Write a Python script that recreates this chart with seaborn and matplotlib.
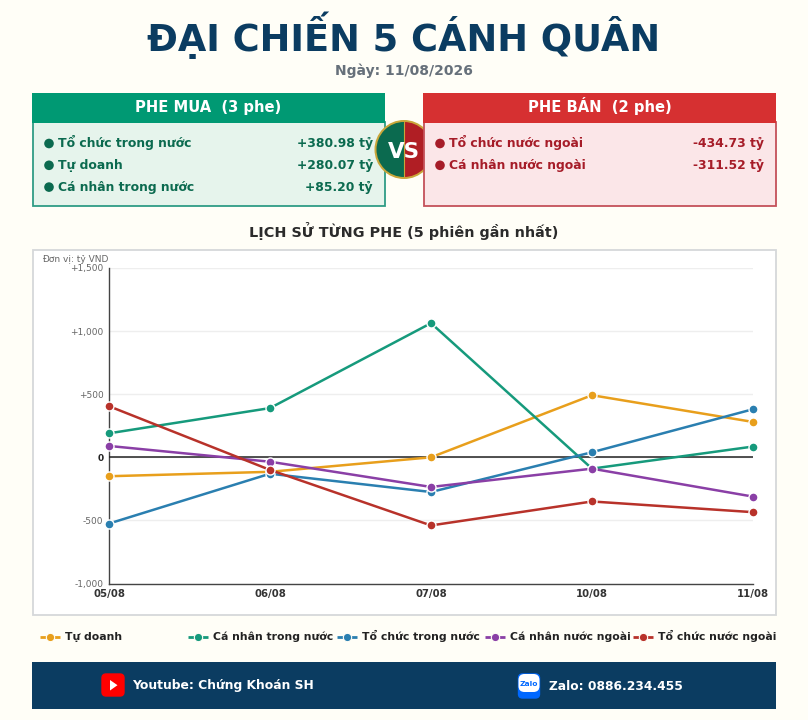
import matplotlib
matplotlib.use("Agg")
import matplotlib.pyplot as plt
from matplotlib.patches import Rectangle, FancyBboxPatch, Circle, Wedge, Polygon
from matplotlib.lines import Line2D
import pandas as pd
import seaborn as sns

sessions = ["05/08", "06/08", "07/08", "10/08", "11/08"]
tu_doanh = [-150, -115, 0, 492, 280.07]
ca_nhan_trong_nuoc = [190, 390, 1063, -90, 85.20]
to_chuc_trong_nuoc = [-525, -130, -275, 40, 380.98]
ca_nhan_nuoc_ngoai = [90, -35, -235, -90, -311.52]
to_chuc_nuoc_ngoai = [405, -100, -540, -350, -434.73]
series_names = ["Tự doanh", "Cá nhân trong nước", "Tổ chức trong nước", "Cá nhân nước ngoài", "Tổ chức nước ngoài"]
series_values = [tu_doanh, ca_nhan_trong_nuoc, to_chuc_trong_nuoc, ca_nhan_nuoc_ngoai, to_chuc_nuoc_ngoai]
series_colors = ["#E89F1C", "#169A7C", "#2A7FB0", "#8A3FA6", "#B8322A"]
y_ticks = [-1000, -500, 0, 500, 1000, 1500]
y_tick_labels = ["-1,000", "-500", "0", "+500", "+1,000", "+1,500"]
buy_rows = [("Tổ chức trong nước", "+380.98 tỷ"), ("Tự doanh", "+280.07 tỷ"), ("Cá nhân trong nước", "+85.20 tỷ")]
sell_rows = [("Tổ chức nước ngoài", "-434.73 tỷ"), ("Cá nhân nước ngoài", "-311.52 tỷ")]
legend_x = [40, 188, 337, 485, 633]

W, H = 808, 720
BG = "#FFFEF7"
NAVY = "#0B3C61"
sns.set_theme(style="white")
plt.rcParams["font.family"] = ["DejaVu Sans"]

fig = plt.figure(figsize=(W / 100, H / 100), dpi=100, facecolor=BG)
bg = fig.add_axes([0, 0, 1, 1], zorder=0)
bg.set_xlim(0, W); bg.set_ylim(H, 0); bg.axis("off")

def T(x, y, s, size, color, ha="left", weight="bold", ax=bg, **kw):
    return ax.text(x, y, s, fontsize=size, color=color, ha=ha, va="baseline", fontweight=weight, **kw)

T(404, 51, "ĐẠI CHIẾN 5 CÁNH QUÂN", 26.5, NAVY, "center")
T(404, 75, "Ngày: 11/08/2026", 10, "#66707A", "center")

# VS badge sits under the right panel, over the left one
cx, cy, r = 404, 149.5, 27.5
bg.add_patch(Circle((cx, cy), r + 2, fc="#C9A63A", ec="none", zorder=5))
bg.add_patch(Wedge((cx, cy), r, 90, 270, fc="#0B6A4F", ec="none", zorder=6))
bg.add_patch(Wedge((cx, cy), r, -90, 90, fc="#B01E24", ec="none", zorder=6))
bg.add_line(Line2D([cx, cx], [cy - r, cy + r], color="#C9A63A", lw=.8, zorder=6.5))

def panel(x, head, body_bg, edge, title, rows, text_c, dot_c, z):
    bg.add_patch(Rectangle((x + .5, 122), 352, 84, fc=body_bg, ec=edge, lw=1.3, zorder=z))
    bg.add_patch(Rectangle((x, 93), 353, 30, fc=head, ec="none", zorder=z))
    T(x + 176.5, 112, title, 10.6, "white", "center", zorder=z + 1)
    for i, (name, val) in enumerate(rows):
        y = 147.5 + i * 21.8
        bg.add_patch(Circle((x + 17, y - 4), 4.8, fc=dot_c, ec="none", zorder=z + 1))
        T(x + 26, y, name, 8.9, text_c, zorder=z + 1)
        T(x + 341, y, val, 8.9, text_c, "right", zorder=z + 1)

panel(32, "#009973", "#E6F4EC", "#2F9C85", "PHE MUA  (3 phe)", buy_rows, "#0B6A4F", "#0B6A4F", 2)
panel(423, "#D63031", "#FBE6E8", "#C4515A", "PHE BÁN  (2 phe)", sell_rows, "#A61C28", "#A61C28", 8)
T(cx, cy + 8, "VS", 15.5, "white", "center", zorder=12)

T(404, 237, "LỊCH SỬ TỪNG PHE (5 phiên gần nhất)", 10.4, "#2B2B2B", "center")
bg.add_patch(Rectangle((32.5, 249.5), 743, 365, fc="white", ec="#D5D8DA", lw=1.3))
T(42, 262, "Đơn vị: tỷ VND", 6.5, "#666666", weight="normal", zorder=5)

ax = fig.add_axes([109 / W, 1 - 583.5 / H, 644 / W, 315.5 / H], zorder=2)
ax.patch.set_alpha(0)
df = pd.DataFrame({
    "session": sessions * len(series_names),
    "order": list(range(len(sessions))) * len(series_names),
    "value": [v for s in series_values for v in s],
    "side": [n for n in series_names for _ in sessions],
})
sns.lineplot(data=df, x="order", y="value", hue="side", hue_order=series_names,
             palette=series_colors, marker="o", markersize=6.5, markeredgecolor="white",
             markeredgewidth=1.0, linewidth=1.8, legend=False, ax=ax, clip_on=False, zorder=4)
ax.set_xlim(0, len(sessions) - 1)
ax.set_ylim(-1000, 1500)
ax.set_xticks(range(len(sessions)), sessions, fontsize=7.3, fontweight="bold", color="#333333")
ax.set_yticks(y_ticks, y_tick_labels, fontsize=6.5, color="#666666")
for lab, v in zip(ax.get_yticklabels(), y_ticks):
    if v == 0:
        lab.set_fontweight("bold"); lab.set_color("#222222")
ax.tick_params(axis="both", length=0, pad=4)
ax.set_xlabel(""); ax.set_ylabel("")
ax.grid(axis="y", color="#EEEEEE", lw=1); ax.grid(axis="x", visible=False)
ax.axhline(0, color="#222222", lw=1.1, zorder=3)
for s in ["top", "right"]:
    ax.spines[s].set_visible(False)
for s in ["left", "bottom"]:
    ax.spines[s].set_color("#444444"); ax.spines[s].set_linewidth(1.0)

for x, name, c in zip(legend_x, series_names, series_colors):
    bg.add_line(Line2D([x, x + 20], [637, 637], color=c, lw=2, solid_capstyle="butt"))
    bg.plot([x + 10], [637], "o", color=c, ms=6, mec=BG, mew=.8)
    T(x + 25, 640, name, 7.8, "#222222")

bg.add_patch(Rectangle((32, 662), 744, 47, fc=NAVY, ec="none"))
bg.add_patch(FancyBboxPatch((102, 674), 22, 22, boxstyle="round,pad=0,rounding_size=4", fc="#FF0000", ec="#FF0000", lw=1))
bg.add_patch(Polygon([[110, 680], [110, 690.5], [117.5, 685.2]], fc="white", ec="none"))
T(132, 689.5, "Youtube: Chứng Khoán SH", 8.9, "white")
bg.add_patch(FancyBboxPatch((518.5, 674), 21, 24, boxstyle="round,pad=0,rounding_size=4", fc="#0068FF", ec="#0068FF", lw=1))
bg.add_patch(FancyBboxPatch((518.5, 674), 21, 18, boxstyle="round,pad=0,rounding_size=6", fc="white", ec="none"))
T(529, 685.5, "Zalo", 5.4, "#0068FF", "center", zorder=5)
T(549, 690, "Zalo: 0886.234.455", 8.8, "white")

fig.savefig("out.png", dpi=100, facecolor=BG)
